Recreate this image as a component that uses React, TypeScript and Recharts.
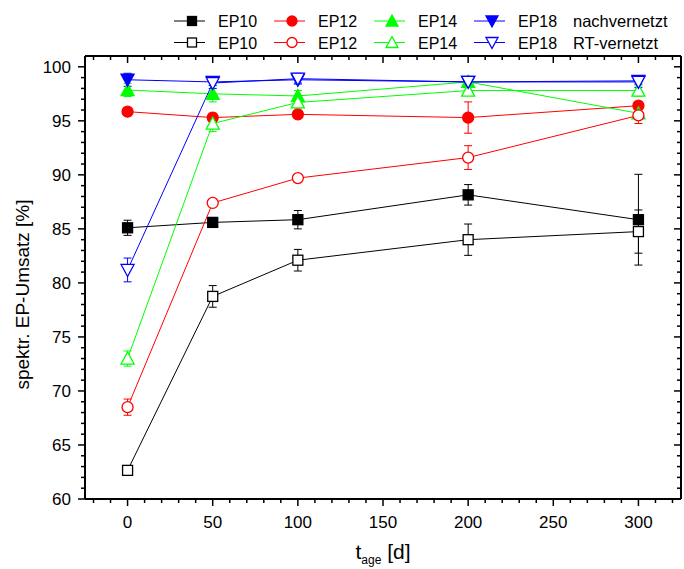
import React from 'react'
import { ComposedChart, Line, XAxis, YAxis, ErrorBar, Legend } from 'recharts'

// ageing time [d]
const ageDays = [0, 50, 100, 200, 300]

// post-cured (nachvernetzt)
const ep10Post = [85.1, 85.6, 85.85, 88.15, 85.85]
const ep10PostErr = [0.7, 0.3, 0.85, 0.95, 4.2]
const ep12Post = [95.85, 95.3, 95.6, 95.3, 96.4]
const ep12PostErr = [0.3, 0.4, 0.3, 1.45, 0.3]
const ep14Post = [97.85, 97.5, 97.3, 98.6, 95.7]
const ep14PostErr = [0.6, 0.75, 0.5, 0.4, 0.4]
const ep18Post = [98.8, 98.6, 98.8, 98.6, 98.7]
const ep18PostErr = [0.6, 0.3, 0.3, 0.3, 0.3]

// room temperature cured (RT-vernetzt)
const ep10Rt = [62.65, 78.75, 82.1, 84.0, 84.75]
const ep10RtErr = [0.2, 1.0, 1.0, 1.45, 2.0]
const ep12Rt = [68.5, 87.4, 89.7, 91.6, 95.5]
const ep12RtErr = [0.75, 0.3, 0.3, 1.1, 0.75]
const ep14Rt = [73.0, 94.75, 96.7, 97.8, 97.8]
const ep14RtErr = [0.7, 0.75, 0.5, 0.4, 0.5]
const ep18Rt = [81.2, 98.5, 98.9, 98.6, 98.6]
const ep18RtErr = [1.1, 0.5, 0.5, 0.4, 0.5]

const xTicks = [-20, -10, 0, 10, 20, 30, 40, 50, 60, 70, 80, 90, 100, 110, 120, 130, 140, 150, 160, 170, 180, 190, 200, 210, 220, 230, 240, 250, 260, 270, 280, 290, 300, 310, 320]
const xLabels = [0, 50, 100, 150, 200, 250, 300]
const yTicks = [60, 61, 62, 63, 64, 65, 66, 67, 68, 69, 70, 71, 72, 73, 74, 75, 76, 77, 78, 79, 80, 81, 82, 83, 84, 85, 86, 87, 88, 89, 90, 91, 92, 93, 94, 95, 96, 97, 98, 99, 100]
const yLabels = [60, 65, 70, 75, 80, 85, 90, 95, 100]

const rowLabels = ['nachvernetzt', 'RT-vernetzt']

const FONT = '"Liberation Sans", Arial, sans-serif'

type Shape = 'square' | 'circle' | 'up' | 'down'

const series = [
  { key: 'ep10Post', name: 'EP10', color: '#000000', shape: 'square' as Shape, filled: true, values: ep10Post, errors: ep10PostErr },
  { key: 'ep12Post', name: 'EP12', color: '#ff0000', shape: 'circle' as Shape, filled: true, values: ep12Post, errors: ep12PostErr },
  { key: 'ep14Post', name: 'EP14', color: '#00ff00', shape: 'up' as Shape, filled: true, values: ep14Post, errors: ep14PostErr },
  { key: 'ep18Post', name: 'EP18', color: '#0000ff', shape: 'down' as Shape, filled: true, values: ep18Post, errors: ep18PostErr },
  { key: 'ep10Rt', name: 'EP10', color: '#000000', shape: 'square' as Shape, filled: false, values: ep10Rt, errors: ep10RtErr },
  { key: 'ep12Rt', name: 'EP12', color: '#ff0000', shape: 'circle' as Shape, filled: false, values: ep12Rt, errors: ep12RtErr },
  { key: 'ep14Rt', name: 'EP14', color: '#00ff00', shape: 'up' as Shape, filled: false, values: ep14Rt, errors: ep14RtErr },
  { key: 'ep18Rt', name: 'EP18', color: '#0000ff', shape: 'down' as Shape, filled: false, values: ep18Rt, errors: ep18RtErr },
]

const data = ageDays.map((t, i) => {
  const row: any = { t }
  series.forEach((s) => {
    row[s.key] = s.values[i]
    row[s.key + 'Err'] = s.errors[i]
  })
  return row
})

const Marker = ({ cx, cy, shape, color, filled, size = 11 }: any) => {
  const fill = filled ? color : '#ffffff'
  const h = size / 2
  if (shape === 'square') {
    return <rect x={cx - h + 0.5} y={cy - h + 0.5} width={size - 1} height={size - 1} fill={fill} stroke={color} strokeWidth={1.3} />
  }
  if (shape === 'circle') {
    return <circle cx={cx} cy={cy} r={h} fill={fill} stroke={color} strokeWidth={1.3} />
  }
  const w = h + 1
  if (shape === 'up') {
    return <polygon points={`${cx},${cy - h - 1} ${cx + w},${cy + h} ${cx - w},${cy + h}`} fill={fill} stroke={color} strokeWidth={1.3} />
  }
  return <polygon points={`${cx},${cy + h + 1} ${cx + w},${cy - h} ${cx - w},${cy - h}`} fill={fill} stroke={color} strokeWidth={1.3} />
}

// legend drawn like the Origin one: two rows, four columns + row label
const LegendBox = () => {
  const colX = [174, 274, 374, 474]
  const rowY = [21, 42.5]
  return (
    <svg width={684} height={56} style={{ display: 'block' }}>
      {series.map((s, i) => {
        const x = colX[i % 4]
        const y = rowY[Math.floor(i / 4)]
        return (
          <g key={s.key}>
            <line x1={x} x2={x + 31} y1={y} y2={y} stroke={s.color} strokeWidth={1} />
            <Marker cx={x + 18} cy={y} shape={s.shape} color={s.color} filled={s.filled} size={10} />
            <text x={x + 44} y={y + 6} fontSize={16} fontFamily={FONT} fill="#000">{s.name}</text>
          </g>
        )
      })}
      {rowLabels.map((l, i) => (
        <text key={l} x={573} y={rowY[i] + 6} fontSize={16.5} fontFamily={FONT} fill="#000">{l}</text>
      ))}
    </svg>
  )
}

const BottomTick = ({ x, y, payload }: any) => {
  const major = xLabels.includes(payload.value)
  return (
    <g>
      <line x1={x} x2={x} y1={y} y2={y + (major ? 7 : 4)} stroke="#000" strokeWidth={1.5} />
      {major && (
        <text x={x} y={y + 29} textAnchor="middle" fontSize={17} fontFamily={FONT} fill="#000">{payload.value}</text>
      )}
    </g>
  )
}

const TopTick = ({ x, y, payload }: any) => {
  const major = xLabels.includes(payload.value)
  return <line x1={x} x2={x} y1={y} y2={y + (major ? 7 : 4)} stroke="#000" strokeWidth={1.5} />
}

const LeftTick = ({ x, y, payload }: any) => {
  const major = yLabels.includes(payload.value)
  return (
    <g>
      <line x1={x} x2={x - (major ? 7 : 4)} y1={y} y2={y} stroke="#000" strokeWidth={1.5} />
      {major && (
        <text x={x - 14} y={y + 6} textAnchor="end" fontSize={17} fontFamily={FONT} fill="#000">{payload.value}</text>
      )}
    </g>
  )
}

const RightTick = ({ x, y, payload }: any) => {
  const major = yLabels.includes(payload.value)
  return <line x1={x} x2={x - (major ? 7 : 4)} y1={y} y2={y} stroke="#000" strokeWidth={1.5} />
}

const XTitle = ({ viewBox }: any) => {
  const cx = viewBox.x + viewBox.width / 2
  return (
    <text x={cx} y={viewBox.y + 60} textAnchor="middle" fontSize={21} fontFamily={FONT} fill="#000">
      <tspan>t</tspan>
      <tspan fontSize={12} dy={5}>age</tspan>
      <tspan dy={-5}> [d]</tspan>
    </text>
  )
}

const YTitle = ({ viewBox }: any) => {
  const cx = viewBox.x + 22
  const cy = viewBox.y + viewBox.height / 2 + 17
  return (
    <text x={cx} y={cy} transform={`rotate(-90, ${cx}, ${cy})`} textAnchor="middle" dominantBaseline="central" fontSize={19} fontFamily={FONT} fill="#000">
      spektr. EP-Umsatz [%]
    </text>
  )
}

export default function App() {
  return (
    <div style={{ position: 'absolute', left: 0, top: 0, background: '#fff' }}>
      <ComposedChart width={684} height={569} data={data} margin={{ top: 55, right: 2, bottom: 0, left: 0 }}>
        <XAxis
          dataKey="t"
          type="number"
          domain={[-25, 325]}
          allowDataOverflow
          ticks={xTicks}
          interval={0}
          tickSize={0}
          tickMargin={0}
          tickLine={false}
          tick={<BottomTick />}
          height={70}
          axisLine={{ stroke: '#000', strokeWidth: 2 }}
          label={<XTitle />}
        />
        <XAxis
          xAxisId="top"
          orientation="top"
          dataKey="t"
          type="number"
          domain={[-25, 325]}
          allowDataOverflow
          ticks={xTicks}
          interval={0}
          tickSize={0}
          tickMargin={0}
          tickLine={false}
          tick={<TopTick />}
          height={1}
          axisLine={{ stroke: '#000', strokeWidth: 2 }}
        />
        <YAxis
          type="number"
          domain={[60, 101]}
          allowDataOverflow
          ticks={yTicks}
          interval={0}
          tickSize={0}
          tickMargin={0}
          tickLine={false}
          tick={<LeftTick />}
          width={85}
          axisLine={{ stroke: '#000', strokeWidth: 2 }}
          label={<YTitle />}
        />
        <YAxis
          yAxisId="right"
          orientation="right"
          type="number"
          domain={[60, 101]}
          allowDataOverflow
          ticks={yTicks}
          interval={0}
          tickSize={0}
          tickMargin={0}
          tickLine={false}
          tick={<RightTick />}
          width={1}
          axisLine={{ stroke: '#000', strokeWidth: 2 }}
        />
        <Legend
          layout="horizontal"
          verticalAlign="middle"
          align="center"
          wrapperStyle={{ top: 0, left: 0, width: 684, height: 56 }}
          content={() => <LegendBox />}
        />
        {series.map((s) => (
          <Line
            key={s.key}
            dataKey={s.key}
            name={s.name}
            type="linear"
            stroke={s.color}
            strokeWidth={1}
            isAnimationActive={false}
            activeDot={false}
            dot={(p: any) => (
              <Marker key={`${s.key}-${p.index}`} cx={p.cx} cy={p.cy} shape={s.shape} color={s.color} filled={s.filled} />
            )}
          >
            <ErrorBar dataKey={s.key + 'Err'} width={4} stroke={s.color} strokeWidth={1} direction="y" />
          </Line>
        ))}
      </ComposedChart>
    </div>
  )
}
